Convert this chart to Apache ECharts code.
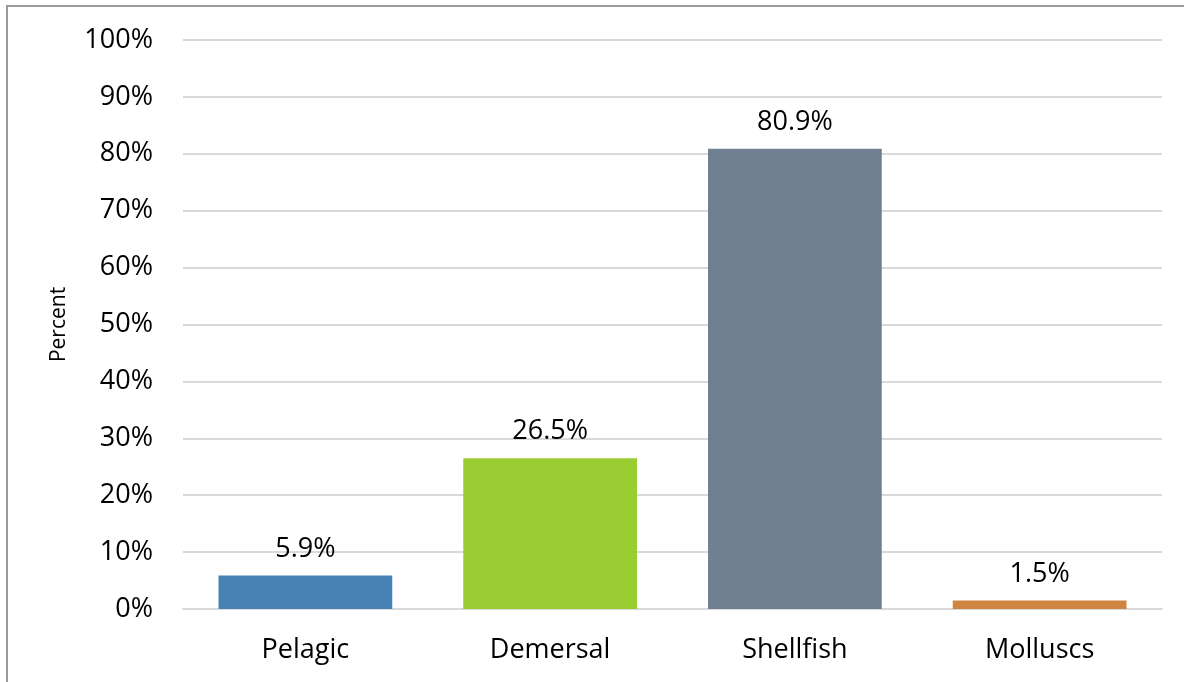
<!DOCTYPE html>
<html>
<head>
<meta charset="utf-8">
<script src="https://cdn.jsdelivr.net/npm/echarts@6/dist/echarts.min.js"></script>
<style>
  html, body { margin: 0; padding: 0; background: #fff; }
  #chart { width: 1184px; height: 682px; }
</style>
</head>
<body>
<div id="chart"></div>
<script>
var categories = ['Pelagic', 'Demersal', 'Shellfish', 'Molluscs'];
var percents = [5.9, 26.5, 80.9, 1.5];
var barColors = ['#4682B4', '#9ACD32', '#708090', '#CD853F'];

var myChart = echarts.init(document.getElementById('chart'));
var font = 'Open Sans';

var option = {
    backgroundColor: '#fff',
    animation: false,
    graphic: [{
        type: 'rect',
        shape: { x: 7, y: 6, width: 1200, height: 700 },
        style: { fill: 'none', stroke: '#9a9a9a', lineWidth: 2 }
    }],
    grid: { left: 183, right: 22, top: 40, bottom: 73 },
    xAxis: {
        type: 'category',
        data: categories,
        axisLine: { lineStyle: { color: '#d9d9d9', width: 2 } },
        axisTick: { show: false },
        axisLabel: { color: '#000', fontFamily: font, fontSize: 27, margin: 28 }
    },
    yAxis: {
        type: 'value',
        min: 0,
        max: 100,
        interval: 10,
        name: 'Percent',
        nameLocation: 'middle',
        nameGap: 113,
        nameTextStyle: { color: '#000', fontFamily: font, fontSize: 21 },
        axisLabel: { formatter: '{value}%', color: '#000', fontFamily: font, fontSize: 27, margin: 30 },
        splitLine: { lineStyle: { color: '#d9d9d9', width: 2 } },
        axisLine: { show: false },
        axisTick: { show: false }
    },
    series: [{
        type: 'bar',
        barWidth: '71%',
        data: percents.map(function (v, i) {
            return { value: v, itemStyle: { color: barColors[i] } };
        }),
        label: {
            show: true,
            position: 'top',
            distance: 13,
            color: '#000',
            fontFamily: font,
            fontSize: 27,
            formatter: function (p) { return p.value.toFixed(1) + '%'; }
        }
    }]
};

myChart.setOption(option);
</script>
</body>
</html>
